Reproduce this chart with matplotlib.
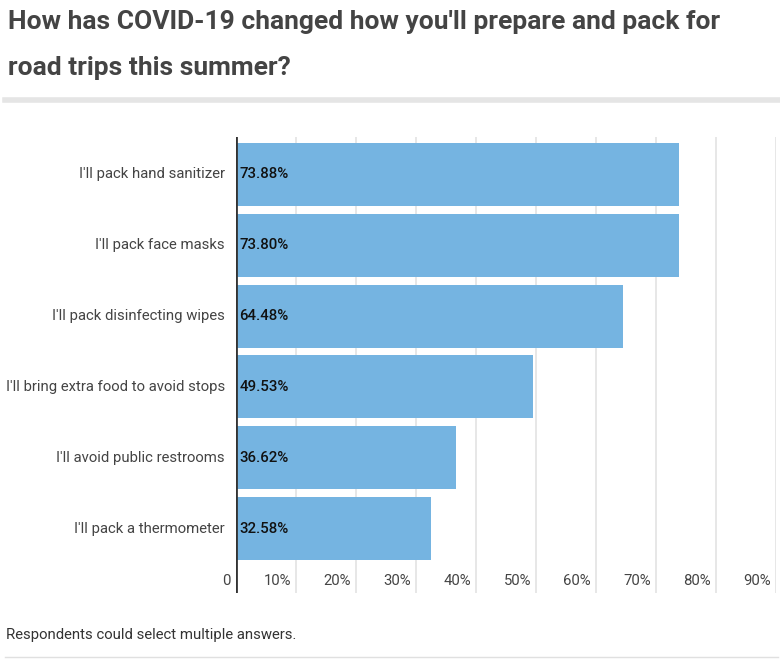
import matplotlib.pyplot as plt
from matplotlib.lines import Line2D
from matplotlib.transforms import blended_transform_factory

plt.rcParams['font.family'] = ['Roboto', 'DejaVu Sans']

categories = ["I'll pack hand sanitizer", "I'll pack face masks", "I'll pack disinfecting wipes",
              "I'll bring extra food to avoid stops", "I'll avoid public restrooms", "I'll pack a thermometer"]
values = [73.88, 73.80, 64.48, 49.53, 36.62, 32.58]
ticks = [0, 10, 20, 30, 40, 50, 60, 70, 80, 90]
tick_labels = ["0"] + [f"{t}%" for t in ticks[1:]]

W, H = 780, 659
fig = plt.figure(figsize=(W / 100, H / 100), dpi=100)
ax = fig.add_axes([236 / W, 1 - 593 / H, (776 - 236) / W, (593 - 137) / H])

pos = list(range(len(categories)))
ax.barh(pos, values, height=0.89, color='#75b4e1', zorder=2)
ax.set_xlim(0, 90)
ax.set_ylim(5 + 64.5 / 71, -37.5 / 71)

for t in ticks[1:]:
    ax.axvline(t, color='#e3e3e3', lw=1.2, zorder=1)
ax.axvline(0, color='#333333', lw=2, zorder=3)

for s in ax.spines.values():
    s.set_visible(False)
ax.set_xticks([])
ax.set_yticks([])

# 60 px per 10%, so 1 px = 1/6 of a percent
for p, c, v in zip(pos, categories, values):
    ax.text(-11 / 6, p, c, ha='right', va='center', fontsize=10.7, color='#444444')
    ax.text(0.6, p, f"{v:.2f}%", ha='left', va='center', fontsize=10.8, color='#111111',
            fontweight='medium', zorder=4)

tb = blended_transform_factory(ax.transData, fig.transFigure)
for t, lab in zip(ticks, tick_labels):
    ax.text(t - 5 / 6, 1 - 581 / H, lab, transform=tb, ha='right', va='center', fontsize=10.7, color='#444444')

fig.text(8 / W, 1 - 22 / H, "How has COVID-19 changed how you'll prepare and pack for", fontsize=19,
         fontweight='bold', color='#444444', va='center', ha='left')
fig.text(8 / W, 1 - 68 / H, "road trips this summer?", fontsize=19,
         fontweight='bold', color='#444444', va='center', ha='left')
fig.add_artist(Line2D([5 / W, 778 / W], [1 - 99.5 / H, 1 - 99.5 / H], color='#e5e5e5', lw=4))

fig.text(6 / W, 1 - 635 / H, "Respondents could select multiple answers.", fontsize=10.7, color='#333333',
         va='center', ha='left')
fig.add_artist(Line2D([5 / W, 778 / W], [1 - 657 / H, 1 - 657 / H], color='#e0e0e0', lw=1))

fig.savefig('out.png', dpi=100)
